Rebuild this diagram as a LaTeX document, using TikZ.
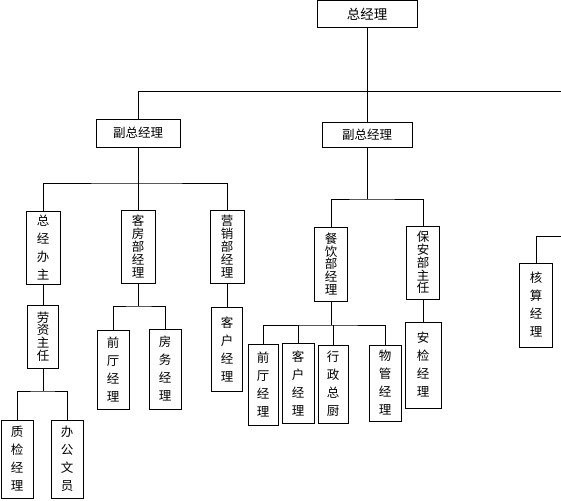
\documentclass[tikz,border=0pt]{standalone}
\usepackage{fontspec}
\newfontfamily\cjk{Noto Sans CJK SC}
\begin{document}
\begin{tikzpicture}[x=1pt, y=-1pt, line width=0.8pt, box/.style={draw, line width=1pt, inner sep=0pt, align=center, font=\cjk\fontsize{12.5}{18}\selectfont}, tight/.style={font=\cjk\fontsize{12.5}{12.8}\selectfont}]
  \useasboundingbox (0,0) rectangle (561,500);
  \node[box, font=\cjk\fontsize{13.5}{14}\selectfont, minimum width=100, minimum height=27] (gm) at (367,14.5) {总经理};
  \node[box, minimum width=84, minimum height=28] (vpa) at (138,133) {副总经理};
  \node[box, minimum width=90, minimum height=25] (vpb) at (367,134.5) {副总经理};
  \node[box, minimum width=34, minimum height=73] (office) at (43,247.5) {总\\经\\办\\主};
  \node[box, tight, minimum width=34, minimum height=73] (room) at (138,246.5) {客\\房\\部\\经\\理};
  \node[box, tight, minimum width=34, minimum height=73] (sales) at (227,246.5) {营\\销\\部\\经\\理};
  \node[box, tight, minimum width=31, minimum height=63] (labor) at (43,336.5) {劳\\资\\主\\任};
  \node[box, minimum width=32, minimum height=78] (qc) at (17,459) {质\\检\\经\\理};
  \node[box, minimum width=32, minimum height=78] (clerk) at (67,459) {办\\公\\文\\员};
  \node[box, minimum width=32, minimum height=79] (fronta) at (113,369.5) {前\\厅\\经\\理};
  \node[box, minimum width=32, minimum height=80] (house) at (165,369) {房\\务\\经\\理};
  \node[box, minimum width=31, minimum height=84] (clienta) at (227,349) {客\\户\\经\\理};
  \node[box, tight, minimum width=33, minimum height=74] (food) at (331,264) {餐\\饮\\部\\经\\理};
  \node[box, tight, minimum width=33, minimum height=73] (guard) at (423,262.5) {保\\安\\部\\主\\任};
  \node[box, minimum width=30, minimum height=81] (frontb) at (263,384.5) {前\\厅\\经\\理};
  \node[box, minimum width=32, minimum height=80] (clientb) at (298,383) {客\\户\\经\\理};
  \node[box, minimum width=30, minimum height=78] (chef) at (333,384) {行\\政\\总\\厨};
  \node[box, minimum width=32, minimum height=76] (estate) at (385,383) {物\\管\\经\\理};
  \node[box, minimum width=36, minimum height=86] (check) at (423,365) {安\\检\\经\\理};
  \node[box, minimum width=33, minimum height=84] (acct) at (536,305) {核\\算\\经\\理};
  \coordinate (east) at (561,91);
  \coordinate (acctin) at (561,236);
  \coordinate (busa) at (138,183);
  \coordinate (busb) at (367,199);
  \coordinate (busc) at (43,391);
  \coordinate (busd) at (138,306);
  \coordinate (buse) at (331,325);
  \draw (gm) -- (vpb);
  \draw (vpa) |- (east);
  \draw (vpa) -- (busa);
  \draw (office) |- (busa) -| (sales);
  \draw (room) -- (busa);
  \draw (office) -- (labor);
  \draw (sales) -- (clienta);
  \draw (labor) -- (busc);
  \draw (qc) |- (busc) -| (clerk);
  \draw (room) -- (busd);
  \draw (fronta) |- (busd) -| (house);
  \draw (vpb) -- (busb);
  \draw (food) |- (busb) -| (guard);
  \draw (food) -- (buse);
  \draw (frontb) |- (buse) -| (estate);
  \draw (clientb) -- (clientb |- buse);
  \draw (chef) -- (chef |- buse);
  \draw (guard) -- (check);
  \draw (acct) |- (acctin);
\end{tikzpicture}
\end{document}
